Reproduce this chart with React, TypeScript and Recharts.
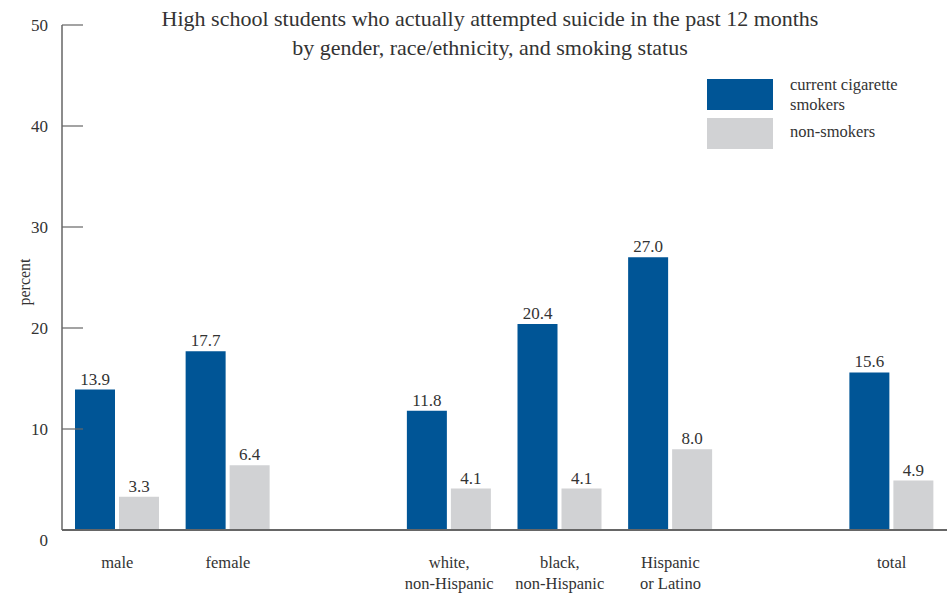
import React from 'react';
import { BarChart, Bar, XAxis, YAxis, LabelList } from 'recharts';

const categories = ['male', 'female', '', 'white,\nnon-Hispanic', 'black,\nnon-Hispanic', 'Hispanic\nor Latino', ' ', 'total'];
const smokers: (number | null)[] = [13.9, 17.7, null, 11.8, 20.4, 27.0, null, 15.6];
const nonSmokers: (number | null)[] = [3.3, 6.4, null, 4.1, 4.1, 8.0, null, 4.9];
const yTicks = [0, 10, 20, 30, 40, 50];

const data = categories.map((c, i) => ({ id: 'c' + i, label: c, smokers: smokers[i], nonSmokers: nonSmokers[i] }));

const FONT = '"Liberation Serif", "DejaVu Serif", serif';
const TEXT = '#333';
const AXIS = '#666';
const BLUE = '#005596';
const GREY = '#d1d2d4';

const YTick = (props: any) => {
  const { x, y, payload } = props;
  const dy = payload.value === 0 ? 16 : 6;
  return (
    <g>
      <line x1={x} y1={y} x2={x + 21} y2={y} stroke={AXIS} strokeWidth={1.2} />
      <text x={x - 14} y={y + dy} textAnchor="end" fill={TEXT} fontSize={17} fontFamily={FONT}>{payload.value}</text>
    </g>
  );
};

const XTick = (props: any) => {
  const { x, y, index } = props;
  const lines = (categories[index] || '').split('\n');
  return (
    <g>
      {lines.map((l, i) => (
        <text key={i} x={x} y={y + 30 + i * 21} textAnchor="middle" fill={TEXT} fontSize={16.5} fontFamily={FONT}>{l}</text>
      ))}
    </g>
  );
};

const ValueLabel = (props: any) => {
  const { x, y, width, value } = props;
  if (value === null || value === undefined) return null;
  return (
    <text x={x + width / 2} y={y - 5} textAnchor="middle" fill={TEXT} fontSize={17} fontFamily={FONT}>{Number(value).toFixed(1)}</text>
  );
};

export default function App() {
  return (
    <div style={{ position: 'absolute', left: 0, top: 0, width: 952, height: 595, background: '#fff', fontFamily: FONT }}>
      <div style={{ position: 'absolute', left: 0, width: 980, top: 4, textAlign: 'center', fontSize: 22, lineHeight: '29px', color: TEXT }}>
        High school students who actually attempted suicide in the past 12 months<br />by gender, race/ethnicity, and smoking status
      </div>
      <div style={{ position: 'absolute', left: 707, top: 79, width: 66, height: 31, background: BLUE }} />
      <div style={{ position: 'absolute', left: 707, top: 118, width: 66, height: 31, background: GREY }} />
      <div style={{ position: 'absolute', left: 790, top: 75, fontSize: 16.5, lineHeight: '20px', color: TEXT }}>current cigarette<br />smokers</div>
      <div style={{ position: 'absolute', left: 790, top: 122, fontSize: 16.5, lineHeight: '20px', color: TEXT }}>non-smokers</div>
      <div style={{ position: 'absolute', left: 25, top: 282, transform: 'translate(-50%, -50%) rotate(-90deg)', fontSize: 16, color: TEXT, whiteSpace: 'nowrap' }}>percent</div>
      <div style={{ position: 'absolute', left: 0, top: 0 }}>
        <BarChart width={952} height={595} data={data} margin={{ top: 25, right: 5, bottom: 0, left: 0 }} barSize={40} barGap={4}>
          <XAxis dataKey="id" tick={<XTick />} tickLine={false} axisLine={{ stroke: AXIS, strokeWidth: 2 }} interval={0} height={65} />
          <YAxis width={62} domain={[0, 50]} ticks={yTicks} tick={<YTick />} tickLine={false} tickSize={0} tickMargin={0} axisLine={{ stroke: AXIS, strokeWidth: 1.5 }} interval={0} />
          <Bar dataKey="smokers" fill={BLUE} isAnimationActive={false}>
            <LabelList dataKey="smokers" content={<ValueLabel />} />
          </Bar>
          <Bar dataKey="nonSmokers" fill={GREY} isAnimationActive={false}>
            <LabelList dataKey="nonSmokers" content={<ValueLabel />} />
          </Bar>
        </BarChart>
      </div>
    </div>
  );
}
